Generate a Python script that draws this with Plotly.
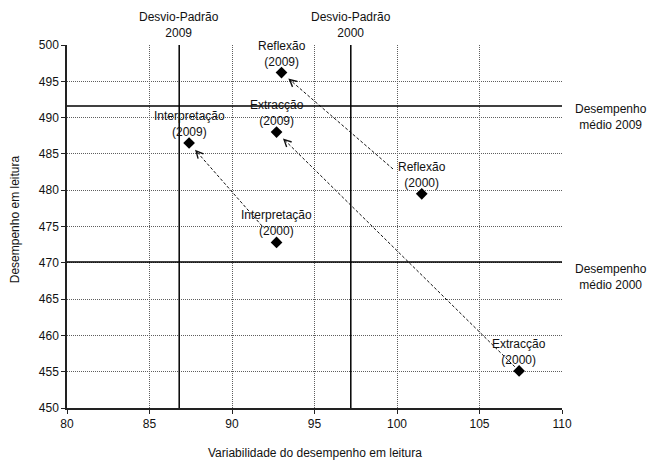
import plotly.graph_objects as go

# Reading domains: variability (x) and mean score (y), 2000 vs 2009
domains = ["Reflexão", "Extracção", "Interpretação"]
var_2000 = [101.5, 107.4, 92.7]
score_2000 = [479.5, 455.1, 472.8]
var_2009 = [93.0, 92.7, 87.4]
score_2009 = [496.2, 488.0, 486.5]

# Reference lines
sd_values = [86.8, 97.2]
sd_labels = ["Desvio-Padrão<br>2009", "Desvio-Padrão<br>2000"]
mean_values = [491.6, 470.1]
mean_labels = ["Desempenho<br>médio 2009", "Desempenho<br>médio 2000"]

x_ticks = [80, 85, 90, 95, 100, 105, 110]
y_ticks = [450, 455, 460, 465, 470, 475, 480, 485, 490, 495, 500]

# Layout geometry
W, H = 650, 461
ML, MR, MT, MB = 67, 88, 45, 53
XR = (80, 110)
YR = (450, 500)
pw, ph = W - ML - MR, H - MT - MB
px_x = pw / (XR[1] - XR[0])
px_y = ph / (YR[1] - YR[0])

FONT = "Liberation Sans, Arial, sans-serif"
TXT = "#111"

# gap (px) left between the 2000 point and the start of each dashed arrow
start_gap = [38, 6, 22]
head_standoff = 9
# vertical nudge (px) of the mean-line captions
mean_label_shift = [-11, -15]

fig = go.Figure()

annotations = []
shapes = []

# dashed arrows from 2000 to 2009
for i in range(len(domains)):
    x0, y0 = var_2000[i], score_2000[i]
    x1, y1 = var_2009[i], score_2009[i]
    dxp = (x1 - x0) * px_x
    dyp = (y1 - y0) * px_y
    L = (dxp ** 2 + dyp ** 2) ** 0.5
    ux, uy = dxp / L, dyp / L
    g0 = start_gap[i]
    g1 = head_standoff + 2
    sx = x0 + ux * g0 / px_x
    sy = y0 + uy * g0 / px_y
    ex = x1 - ux * g1 / px_x
    ey = y1 - uy * g1 / px_y
    fig.add_trace(go.Scatter(
        x=[sx, ex], y=[sy, ey], mode="lines",
        line=dict(color="#111", width=1, dash="3px,2px"),
        hoverinfo="skip", showlegend=False,
    ))
    # arrow head at the 2009 point
    annotations.append(dict(
        x=x1, y=y1, xref="x", yref="y", text="",
        showarrow=True, arrowhead=5, arrowsize=1.4, arrowwidth=1,
        arrowcolor="#111", standoff=head_standoff,
        ax=-ux * 14, ay=uy * 14,
    ))

# markers
all_x = var_2000 + var_2009
all_y = score_2000 + score_2009
fig.add_trace(go.Scatter(
    x=all_x, y=all_y, mode="markers",
    marker=dict(symbol="diamond", size=9, color="black"),
    showlegend=False, hoverinfo="skip",
))

# point labels
for i, d in enumerate(domains):
    for xv, yv, yr in ((var_2000[i], score_2000[i], "2000"),
                       (var_2009[i], score_2009[i], "2009")):
        annotations.append(dict(
            x=xv, y=yv, xref="x", yref="y",
            text=f"{d}<br>({yr})", showarrow=False,
            xanchor="center", yanchor="bottom", yshift=2,
            font=dict(family=FONT, size=12, color=TXT),
        ))

# standard deviation lines
for v, lab in zip(sd_values, sd_labels):
    shapes.append(dict(type="line", xref="x", yref="y",
                       x0=v, x1=v, y0=YR[0], y1=YR[1],
                       line=dict(color="black", width=1.5)))
    annotations.append(dict(
        x=v, y=1 + 20 / ph, xref="x", yref="paper", text=lab,
        showarrow=False, xanchor="center", yanchor="middle",
        font=dict(family=FONT, size=12, color=TXT),
    ))

# mean performance lines
for v, lab, sh in zip(mean_values, mean_labels, mean_label_shift):
    shapes.append(dict(type="line", xref="x", yref="y",
                       x0=XR[0], x1=XR[1], y0=v, y1=v,
                       line=dict(color="black", width=1.5)))
    annotations.append(dict(
        x=1 + 49 / pw, y=v, xref="paper", yref="y", text=lab,
        showarrow=False, xanchor="center", yanchor="middle", yshift=sh,
        font=dict(family=FONT, size=12, color=TXT),
    ))

# axis titles
annotations.append(dict(
    x=0.5, y=-45 / ph, xref="paper", yref="paper",
    text="Variabilidade do desempenho em leitura", showarrow=False,
    xanchor="center", yanchor="middle",
    font=dict(family=FONT, size=12, color=TXT),
))
annotations.append(dict(
    x=-52 / pw, y=0.52, xref="paper", yref="paper",
    text="Desempenho em leitura", showarrow=False, textangle=-90,
    xanchor="center", yanchor="middle",
    font=dict(family=FONT, size=12, color=TXT),
))

axis_common = dict(
    showgrid=True, gridcolor="#5e5e5e", gridwidth=1, griddash="1px,1px",
    zeroline=False, showline=True, linecolor="#222", linewidth=1.5,
    ticks="outside", ticklen=4, tickcolor="#222", tickwidth=1,
    tickfont=dict(family=FONT, size=12, color=TXT),
)

fig.update_layout(
    width=W, height=H,
    margin=dict(l=ML, r=MR, t=MT, b=MB),
    paper_bgcolor="white", plot_bgcolor="white",
    xaxis=dict(range=list(XR), tickvals=x_ticks, **axis_common),
    yaxis=dict(range=list(YR), tickvals=y_ticks, **axis_common),
    shapes=shapes, annotations=annotations,
    showlegend=False,
)

fig.write_html("out.html")
